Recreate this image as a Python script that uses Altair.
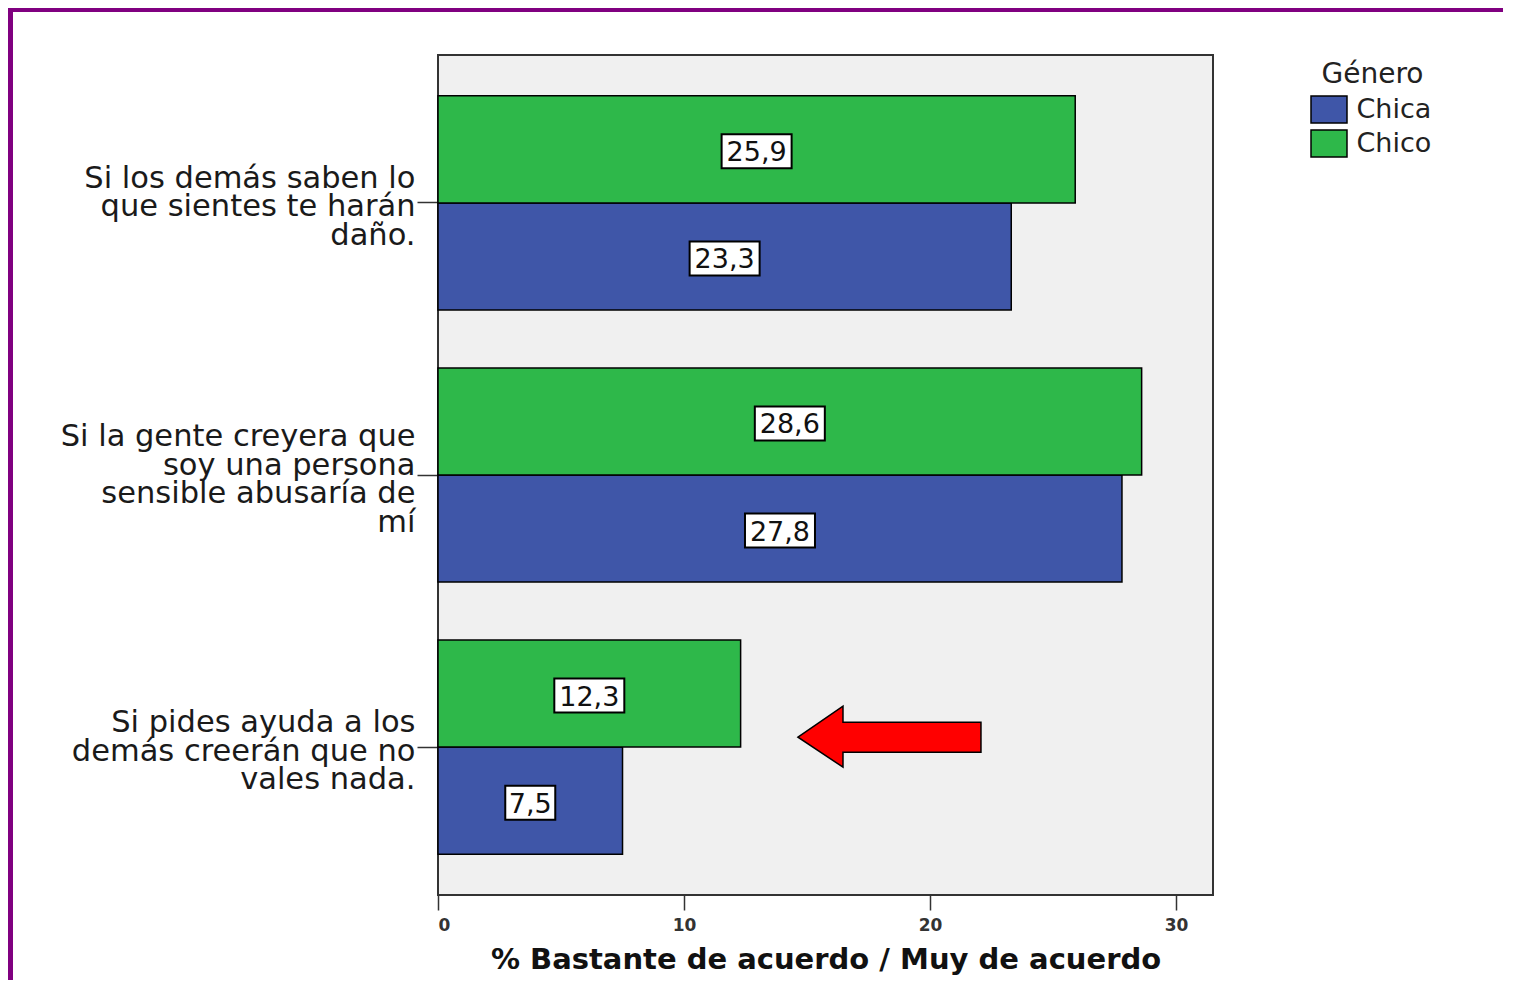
import altair as alt
import pandas as pd

categories = [
    "Si los demás saben lo|que sientes te harán|daño.",
    "Si la gente creyera que|soy una persona|sensible abusaría de|mí",
    "Si pides ayuda a los|demás creerán que no|vales nada.",
]
genders = ["Chica", "Chico"]
chica_values = [23.3, 27.8, 7.5]
chico_values = [25.9, 28.6, 12.3]
x_ticks = [0, 10, 20, 30]
legend_title = "Género"
x_title = "% Bastante de acuerdo / Muy de acuerdo"
arrow_x = [18.35]
arrow_cat = [categories[2]]

rows = []
for c, a, b in zip(categories, chica_values, chico_values):
    rows.append({"cat": c, "gen": "Chica", "val": a})
    rows.append({"cat": c, "gen": "Chico", "val": b})
df = pd.DataFrame(rows)

FONT = "DejaVu Sans"

y_enc = alt.Y(
    "cat:N",
    sort=categories,
    title=None,
    scale=alt.Scale(paddingInner=0.213, paddingOuter=0.15),
    axis=alt.Axis(
        labelExpr="split(datum.label, '|')",
        labelFont=FONT,
        labelFontSize=30.5,
        labelLineHeight=28.5,
        labelColor="#1a1a1a",
        labelLimit=600,
        labelAlign="right",
        labelBaseline="middle",
        labelPadding=2,
        labelOffset={
            "condition": {"test": "length(split(datum.label, '|')) > 3", "value": -38},
            "value": -24,
        },
        tickSize=21,
        tickColor="#333333",
        tickWidth=1.5,
        domain=False,
        grid=False,
    ),
)
yoff = alt.YOffset("gen:N", sort=["Chico", "Chica"], scale=alt.Scale(paddingInner=0, paddingOuter=0))

x_axis = alt.Axis(
    values=x_ticks,
    format="d",
    labelFont=FONT,
    labelFontSize=17,
    labelFontWeight="bold",
    labelColor="#333333",
    labelPadding=7,
    tickSize=15,
    tickColor="#333333",
    tickWidth=1.5,
    domain=False,
    grid=False,
    titleFont=FONT,
    titleFontSize=29,
    titleFontWeight="bold",
    titleColor="#111111",
    titlePadding=12,
)
x_scale = alt.Scale(domain=[0, 31.5], nice=False, zero=True)

base = alt.Chart(df)

bars = base.mark_bar(stroke="black", strokeWidth=1.5).encode(
    x=alt.X("val:Q", scale=x_scale, axis=x_axis, title=x_title),
    y=y_enc,
    yOffset=yoff,
    color=alt.Color(
        "gen:N",
        scale=alt.Scale(domain=genders, range=["#3f56a8", "#2eb84a"]),
        legend=alt.Legend(
            title=legend_title,
            orient="none",
            legendX=876.5,
            legendY=6,
            padding=0,
            titleFont=FONT,
            titleFontSize=28,
            titleFontWeight="normal",
            titleColor="#222222",
            titleAnchor="middle",
            titlePadding=6,
            labelFont=FONT,
            labelFontSize=27,
            labelColor="#222222",
            labelOffset=13,
            symbolType="M-1.333,-1H1.333V1H-1.333Z",
            symbolSize=729,
            symbolStrokeColor="black",
            symbolStrokeWidth=1.5,
            rowPadding=1,
        ),
    ),
)

labelled = base.transform_calculate(
    mid="datum.val / 2",
    lbl="replace(format(datum.val, '.1f'), '.', ',')",
).transform_calculate(
    shp="length(datum.lbl) > 3 ? 'M-1,-0.429H1V0.543H-1Z' : 'M-1,-0.6H1V0.76H-1Z'",
    sz="length(datum.lbl) > 3 ? 4900 : 2500",
)

boxes = labelled.mark_point(filled=True, fill="white", stroke="black", strokeWidth=2, opacity=1).encode(
    x=alt.X("mid:Q", scale=x_scale, axis=x_axis, title=x_title),
    y=y_enc,
    yOffset=yoff,
    shape=alt.Shape("shp:N", scale=None),
    size=alt.Size("sz:Q", scale=None),
)

texts = labelled.mark_text(font=FONT, fontSize=27, color="#111111", baseline="middle", align="center", dy=4).encode(
    x=alt.X("mid:Q", scale=x_scale, axis=x_axis, title=x_title),
    y=y_enc,
    yOffset=yoff,
    text="lbl:N",
)

arrow_df = pd.DataFrame({"ax": arrow_x, "cat": arrow_cat})
arrow = alt.Chart(arrow_df).mark_point(
    filled=True,
    fill="#ff0000",
    stroke="black",
    strokeWidth=1.5,
    opacity=1,
    size=33489,
    shape="M-1,-0.109L-0.508,-0.448L-0.508,-0.273L1,-0.273L1,0.055L-0.508,0.055L-0.508,0.219Z",
).encode(
    x=alt.X("ax:Q", scale=x_scale, axis=x_axis, title=x_title),
    y=y_enc,
)

deco = alt.Chart(pd.DataFrame({"k": [0]}))
border_top = deco.mark_rule(color="#800080", strokeWidth=4).encode(
    x=alt.value(-430), x2=alt.value(1065), y=alt.value(-45)
)
border_left = deco.mark_rule(color="#800080", strokeWidth=5).encode(
    x=alt.value(-427.5), y=alt.value(-47), y2=alt.value(925)
)

chart = alt.layer(bars, boxes, texts, arrow, border_top, border_left).properties(
    width=775,
    height=840,
    autosize=alt.AutoSizeParams(type="none"),
    padding={"left": 430, "top": 47, "right": 290, "bottom": 85},
    background="white",
).configure_view(
    fill="#f0f0f0", stroke="#333333", strokeWidth=2
)

chart.save("out.html", embed_options={"renderer": "svg", "actions": False})
